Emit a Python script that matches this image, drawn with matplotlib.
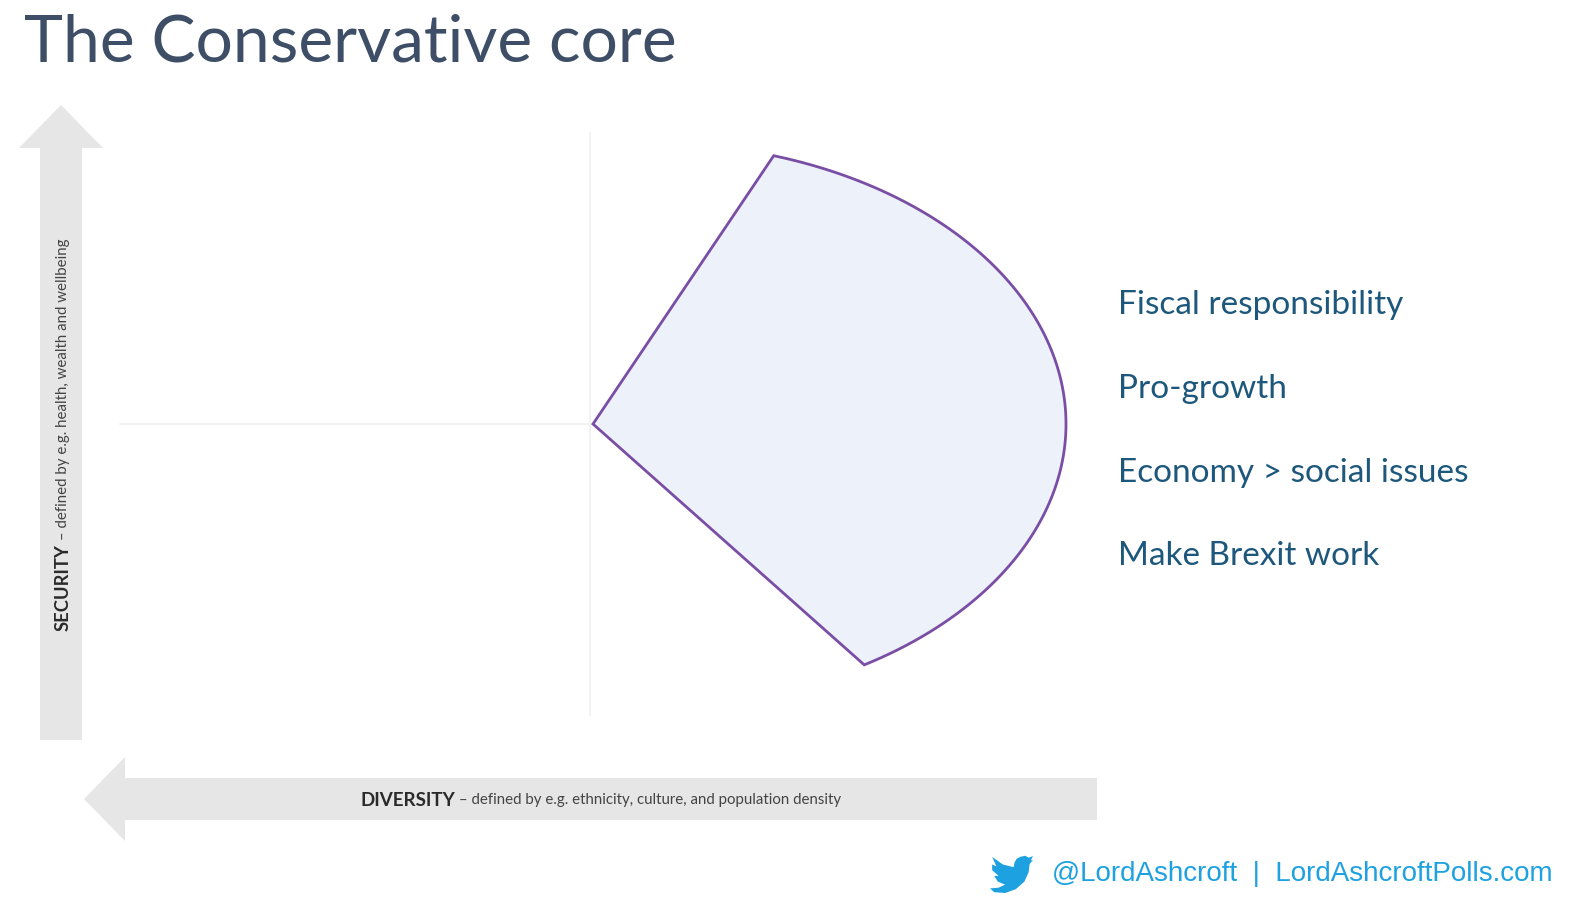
import numpy as np
import matplotlib.pyplot as plt
from matplotlib.patches import Polygon

# slide is laid out on a 1580 x 915 grid (y grows downwards)
W, H = 1580, 915

title = "The Conservative core"
points = ["Fiscal responsibility", "Pro-growth", "Economy > social issues", "Make Brexit work"]
points_y = [303, 387, 471, 554]

y_label_bold = "SECURITY"
y_label_rest = " – defined by e.g. health, wealth and wellbeing"
x_label_bold = "DIVERSITY"
x_label_rest = " – defined by e.g. ethnicity, culture, and population density"

footer = "@LordAshcroft  |  LordAshcroftPolls.com"

# quadrant centre and the conservative "core" shape (sector of an ellipse)
centre = (593, 424)
ell_centre = (650, 424)
ell_a, ell_b = 416, 281
arc_from, arc_to = 72.7, -59.0   # degrees

# arrows: (shaft start, shaft end, shaft half width, head half width, tip)
v_arrow = dict(x=61, y0=740, y1=148, half=21, head=42, tip=105)
h_arrow = dict(y=799, x0=1097, x1=125, half=21, head=42, tip=84)

grey_arrow = "#e6e6e6"
title_col = "#3d4e66"
point_col = "#1d587c"
twitter_col = "#1da1e0"


def place_after(ax, first, txt, **kw):
    # draw txt right after the first text object (same baseline)
    fig = ax.figure
    fig.canvas.draw()
    bb = first.get_window_extent()
    inv = ax.transData.inverted()
    if kw.get("rotation", 0) == 90:
        x, y = first.get_position()
        _, ytop = inv.transform((bb.x0, bb.y1))
        return ax.text(x, ytop, txt, **kw)
    x, y = first.get_position()
    xr, _ = inv.transform((bb.x1, bb.y0))
    return ax.text(xr, y, txt, **kw)


fig = plt.figure(figsize=(W / 100, H / 100), dpi=100)
ax = fig.add_axes([0, 0, 1, 1])
ax.set_xlim(0, W)
ax.set_ylim(H, 0)
ax.axis("off")

ax.text(24, 62, title, fontsize=47.5, color=title_col, family="Lato",
        ha="left", va="baseline")

# grey arrows
va = v_arrow
ax.add_patch(Polygon([(va["x"] - va["half"], va["y0"]), (va["x"] - va["half"], va["y1"]),
                      (va["x"] - va["head"], va["y1"]), (va["x"], va["tip"]),
                      (va["x"] + va["head"], va["y1"]), (va["x"] + va["half"], va["y1"]),
                      (va["x"] + va["half"], va["y0"])], closed=True, fc=grey_arrow, ec="none"))
ha_ = h_arrow
ax.add_patch(Polygon([(ha_["x0"], ha_["y"] - ha_["half"]), (ha_["x1"], ha_["y"] - ha_["half"]),
                      (ha_["x1"], ha_["y"] - ha_["head"]), (ha_["tip"], ha_["y"]),
                      (ha_["x1"], ha_["y"] + ha_["head"]), (ha_["x1"], ha_["y"] + ha_["half"]),
                      (ha_["x0"], ha_["y"] + ha_["half"])], closed=True, fc=grey_arrow, ec="none"))

# faint quadrant lines
ax.plot([centre[0] - 3, centre[0] - 3], [133, 715], color="#f0f0f0", lw=1.2, zorder=1)
ax.plot([120, centre[0]], [centre[1], centre[1]], color="#f0f0f0", lw=1.2, zorder=1)

# core shape
t = np.radians(np.linspace(arc_from, arc_to, 300))
arc_x = ell_centre[0] + ell_a * np.cos(t)
arc_y = ell_centre[1] - ell_b * np.sin(t)
shape = np.vstack([[centre], np.column_stack([arc_x, arc_y]), [centre]])
ax.add_patch(Polygon(shape, closed=True, fc="#ecf1fa", ec="#7a4ea5", lw=2.0,
                     joinstyle="miter", zorder=3))

# bullet points
for txt, y in zip(points, points_y):
    ax.text(1118, y + 2, txt, fontsize=24, color=point_col, family="Lato",
            ha="left", va="center")

# axis labels
t1 = ax.text(360, 800, x_label_bold, fontsize=13.5, weight="bold", color="#2a2a2a",
             family="Lato", ha="left", va="center")
place_after(ax, t1, x_label_rest, fontsize=10.8, color="#444444", family="Lato",
            ha="left", va="center")

t2 = ax.text(63, 631, y_label_bold, fontsize=13.2, weight="bold", color="#2a2a2a",
             family="Lato", rotation=90, rotation_mode="anchor", ha="left", va="center")
place_after(ax, t2, y_label_rest, fontsize=10.8, color="#444444", family="Lato",
            rotation=90, rotation_mode="anchor", ha="left", va="center")

# footer with twitter bird
bird = np.array([(0.70, 0.05), (0.82, 0.02), (0.90, 0.07), (1.00, 0.03), (0.95, 0.14),
                 (1.00, 0.13), (0.92, 0.24), (0.90, 0.45), (0.80, 0.70), (0.60, 0.90),
                 (0.35, 1.00), (0.10, 0.98), (0.00, 0.88), (0.20, 0.86), (0.35, 0.78),
                 (0.18, 0.70), (0.10, 0.55), (0.20, 0.55), (0.05, 0.40), (0.05, 0.25),
                 (0.15, 0.30), (0.05, 0.05), (0.30, 0.25), (0.55, 0.32), (0.57, 0.20),
                 (0.62, 0.10)])
bird_box = (990, 855, 43, 38)
ax.add_patch(Polygon(np.column_stack([bird_box[0] + bird[:, 0] * bird_box[2],
                                      bird_box[1] + bird[:, 1] * bird_box[3]]),
                     closed=True, fc=twitter_col, ec="none"))
ax.text(1052, 874, footer, fontsize=20, color=twitter_col, family="Liberation Sans",
        ha="left", va="center")

fig.savefig("out.png", dpi=100, facecolor="white")
